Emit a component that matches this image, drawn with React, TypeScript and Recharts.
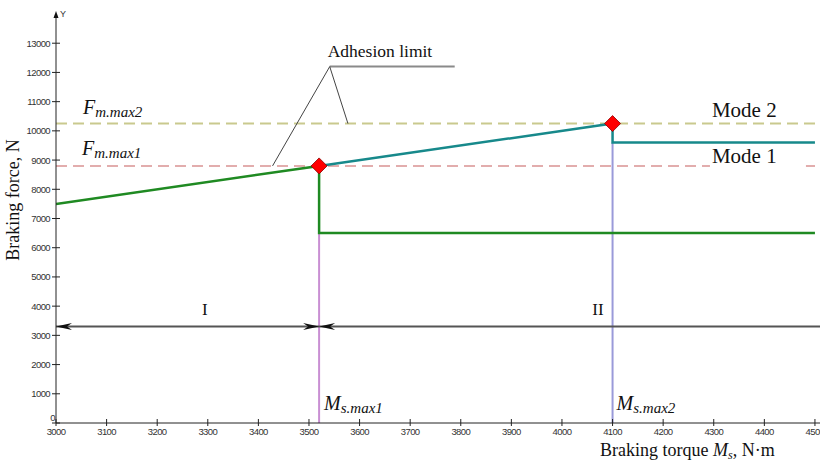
import React from 'react';
import {
  ComposedChart,
  Line,
  Scatter,
  XAxis,
  YAxis,
  ReferenceLine,
  ReferenceDot,
} from 'recharts';

// axis ticks
const torqueTicks = [3000, 3100, 3200, 3300, 3400, 3500, 3600, 3700, 3800, 3900, 4000, 4100, 4200, 4300, 4400, 4500];
const forceTicks = [0, 1000, 2000, 3000, 4000, 5000, 6000, 7000, 8000, 9000, 10000, 11000, 12000, 13000];

// Mode 1 (green) and Mode 2 (teal) braking force vs torque
const mode1Torque = [3000, 3520, 3520, 4500];
const mode1Force = [7500, 8800, 6500, 6500];
const mode2Torque = [3520, 4100, 4100, 4500];
const mode2Force = [8800, 10250, 9600, 9600];

// maximum points (red diamonds) and adhesion limits
const maxTorque = [3520, 4100];
const maxForce = [8800, 10250];
const adhesionLimit = [8800, 10250];

// zone arrows I / II
const zoneForce = 3300;
const zoneBounds = [3000, 3520, 4510];

const mode1 = mode1Torque.map((x, i) => ({ x, y: mode1Force[i] }));
const mode2 = mode2Torque.map((x, i) => ({ x, y: mode2Force[i] }));
const maxPoints = maxTorque.map((x, i) => ({ x, y: maxForce[i] }));

const serif = '"Liberation Serif", "Times New Roman", serif';
const sans = '"Liberation Sans", Arial, sans-serif';

const YTick = (props: any) => {
  const { x, y, payload } = props;
  const zero = payload.value === 0;
  return (
    <g>
      <line x1={x - 4} x2={x + 4} y1={y} y2={y} stroke="#222" />
      <text
        x={zero ? x - 1 : x - 6}
        y={zero ? y - 2 : y + 3.5}
        textAnchor="end"
        fontFamily={sans}
        fontSize={9.5}
        letterSpacing={-0.6}
        fill="#333"
      >
        {payload.value}
      </text>
    </g>
  );
};

const XTick = (props: any) => {
  const { x, y, payload } = props;
  return (
    <g>
      <line x1={x} x2={x} y1={y - 4} y2={y + 3} stroke="#222" />
      <text x={x} y={y + 12} textAnchor="middle" fontFamily={sans} fontSize={9.5} letterSpacing={-0.6} fill="#333">
        {payload.value}
      </text>
    </g>
  );
};

const arrowHead = (tx: number, ty: number, d: number) =>
  `${tx},${ty} ${tx - d * 16},${ty - 3.5} ${tx - d * 11},${ty} ${tx - d * 16},${ty + 3.5}`;

const zoneArrow = (start: boolean, end: boolean) => (p: any) => {
  const { x1, y1, x2, y2 } = p;
  return (
    <g>
      <line x1={x1} y1={y1} x2={x2} y2={y2} stroke="#555" strokeWidth={2} />
      {start && <polygon points={arrowHead(x1, y1, -1)} fill="#111" />}
      {end && <polygon points={arrowHead(x2, y2, 1)} fill="#111" />}
    </g>
  );
};

const Diamond = (p: any) => {
  const { cx, cy } = p;
  const r = 8;
  return (
    <polygon
      points={`${cx},${cy - r} ${cx + r},${cy} ${cx},${cy + r} ${cx - r},${cy}`}
      fill="#ff0000"
      stroke="#8a0000"
      strokeWidth={0.8}
    />
  );
};

const note = (render: (cx: number, cy: number) => React.ReactNode) => (p: any) => <g>{render(p.cx, p.cy)}</g>;

const subLabel = (main: string, sub: string, mainSize: number, subSize: number) => (
  <>
    <tspan fontStyle="italic" fontSize={mainSize}>{main}</tspan>
    <tspan fontStyle="italic" fontSize={subSize} dy={3}>{sub}</tspan>
  </>
);

const App: React.FC = () => {
  return (
    <div style={{ position: 'absolute', left: 0, top: 0, width: 820, height: 462, background: '#fff' }}>
      <ComposedChart width={820} height={462} margin={{ top: 14, right: 0, bottom: 0, left: 0 }}>
        <XAxis
          type="number"
          dataKey="x"
          domain={[3000, 4510]}
          allowDataOverflow
          ticks={torqueTicks}
          interval={0}
          height={39}
          tickSize={0}
          tickMargin={0}
          tickLine={false}
          axisLine={{ stroke: '#222' }}
          tick={<XTick />}
          label={{
            content: (lp: any) => {
              const vb = lp.viewBox;
              return (
                <text x={600} y={vb.y + 33} fontFamily={serif} fontSize={18} fill="#111">
                  <tspan>Braking torque </tspan>
                  <tspan fontStyle="italic">M</tspan>
                  <tspan fontStyle="italic" fontSize={12} dy={3}>s</tspan>
                  <tspan dy={-3}>, N·m</tspan>
                </text>
              );
            },
          }}
        />
        <YAxis
          type="number"
          dataKey="y"
          domain={[0, 14000]}
          allowDataOverflow
          ticks={forceTicks}
          interval={0}
          width={56}
          tickSize={0}
          tickMargin={0}
          tickLine={false}
          axisLine={{ stroke: '#222' }}
          tick={<YTick />}
          label={{
            content: () => (
              <text
                x={19}
                y={200}
                textAnchor="middle"
                transform="rotate(-90, 19, 200)"
                fontFamily={serif}
                fontSize={18}
                fill="#111"
              >
                Braking force, N
              </text>
            ),
          }}
        />

        {/* adhesion limits */}
        <ReferenceLine y={adhesionLimit[1]} stroke="#c9c98e" strokeWidth={2} strokeDasharray="11 6" ifOverflow="visible" />
        <ReferenceLine y={adhesionLimit[0]} stroke="#d99393" strokeWidth={1.5} strokeDasharray="11 6" ifOverflow="visible" />

        {/* vertical marks at max points */}
        <ReferenceLine segment={[{ x: maxTorque[0], y: 0 }, { x: maxTorque[0], y: mode1Force[2] }]} stroke="#c98fd3" strokeWidth={2} />
        <ReferenceLine segment={[{ x: maxTorque[1], y: 0 }, { x: maxTorque[1], y: mode2Force[2] }]} stroke="#9a9ad9" strokeWidth={2} />

        {/* zone arrows */}
        <ReferenceLine
          segment={[{ x: zoneBounds[0], y: zoneForce }, { x: zoneBounds[1], y: zoneForce }]}
          shape={zoneArrow(true, true)}
          ifOverflow="visible"
        />
        <ReferenceLine
          segment={[{ x: zoneBounds[1], y: zoneForce }, { x: zoneBounds[2], y: zoneForce }]}
          shape={zoneArrow(true, false)}
          ifOverflow="visible"
        />

        {/* adhesion limit leader lines */}
        <ReferenceLine segment={[{ x: 3541, y: 12200 }, { x: 3788, y: 12200 }]} stroke="#8a8a8a" strokeWidth={2} />
        <ReferenceLine segment={[{ x: 3541, y: 12200 }, { x: 3428, y: adhesionLimit[0] }]} stroke="#444" strokeWidth={1} />
        <ReferenceLine segment={[{ x: 3541, y: 12200 }, { x: 3577, y: adhesionLimit[1] }]} stroke="#444" strokeWidth={1} />

        <Line data={mode1} dataKey="y" type="linear" stroke="#1f8a22" strokeWidth={2.5} dot={false} isAnimationActive={false} />
        <Line data={mode2} dataKey="y" type="linear" stroke="#17898b" strokeWidth={2.5} dot={false} isAnimationActive={false} />
        <Scatter data={maxPoints} dataKey="y" shape={<Diamond />} isAnimationActive={false} />

        {/* Y axis arrow */}
        <ReferenceDot
          x={3000}
          y={14000}
          ifOverflow="visible"
          shape={note((cx, cy) => (
            <>
              <polygon points={`${cx},${cy - 3} ${cx - 2.5},${cy + 4} ${cx + 2.5},${cy + 4}`} fill="#111" />
              <text x={cx + 4} y={cy + 3} fontFamily={sans} fontSize={9} fill="#333">Y</text>
            </>
          ))}
        />

        {/* texts */}
        <ReferenceDot
          x={3541}
          y={12200}
          ifOverflow="visible"
          shape={note((cx, cy) => (
            <text x={cx - 2} y={cy - 10} fontFamily={serif} fontSize={17.5} fill="#111">Adhesion limit</text>
          ))}
        />
        <ReferenceDot
          x={3000}
          y={adhesionLimit[1]}
          ifOverflow="visible"
          shape={note((cx, cy) => (
            <text x={cx + 27} y={cy - 10} fontFamily={serif} fill="#111">{subLabel('F', 'm.max2', 20, 15)}</text>
          ))}
        />
        <ReferenceDot
          x={3000}
          y={adhesionLimit[0]}
          ifOverflow="visible"
          shape={note((cx, cy) => (
            <text x={cx + 26} y={cy - 11} fontFamily={serif} fill="#111">{subLabel('F', 'm.max1', 20, 15)}</text>
          ))}
        />
        <ReferenceDot
          x={4500}
          y={adhesionLimit[1]}
          ifOverflow="visible"
          shape={note((cx, cy) => (
            <text x={cx - 103} y={cy - 7} fontFamily={serif} fontSize={21} fill="#111">Mode 2</text>
          ))}
        />
        <ReferenceDot
          x={4500}
          y={adhesionLimit[0]}
          ifOverflow="visible"
          shape={note((cx, cy) => (
            <>
              <rect x={cx - 105} y={cy - 12} width={96} height={18} fill="#fff" />
              <text x={cx - 103} y={cy - 3} fontFamily={serif} fontSize={21} fill="#111">Mode 1</text>
            </>
          ))}
        />
        <ReferenceDot
          x={maxTorque[0]}
          y={0}
          ifOverflow="visible"
          shape={note((cx, cy) => (
            <text x={cx + 5} y={cy - 13} fontFamily={serif} fill="#111">{subLabel('M', 's.max1', 20, 15)}</text>
          ))}
        />
        <ReferenceDot
          x={maxTorque[1]}
          y={0}
          ifOverflow="visible"
          shape={note((cx, cy) => (
            <text x={cx + 4} y={cy - 13} fontFamily={serif} fill="#111">{subLabel('M', 's.max2', 20, 15)}</text>
          ))}
        />
        <ReferenceDot
          x={3294}
          y={zoneForce}
          ifOverflow="visible"
          shape={note((cx, cy) => (
            <text x={cx} y={cy - 12} textAnchor="middle" fontFamily={serif} fontSize={17} fill="#111">I</text>
          ))}
        />
        <ReferenceDot
          x={4071}
          y={zoneForce}
          ifOverflow="visible"
          shape={note((cx, cy) => (
            <text x={cx} y={cy - 12} textAnchor="middle" fontFamily={serif} fontSize={17} fill="#111">II</text>
          ))}
        />
      </ComposedChart>
    </div>
  );
};

export default App;
